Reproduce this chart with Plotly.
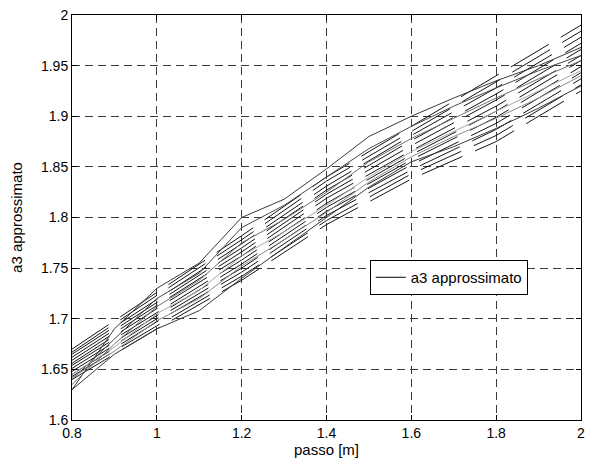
import plotly.graph_objects as go

# x positions (passo [m])
passo_solid = [0.8, 0.9, 1.0, 1.1, 1.2, 1.3, 1.4, 1.5, 1.6, 1.7, 1.8, 1.9, 2.0]
passo_dash = [0.8, 1.0, 1.2, 1.4, 1.6, 1.8, 2.0]

# solid curves
solid_1 = [1.630, 1.690, 1.730, 1.755, 1.800, 1.818, 1.848, 1.880, 1.900, 1.918, 1.935, 1.950, 1.968]
solid_2 = [1.640, 1.680, 1.720, 1.745, 1.790, 1.812, 1.840, 1.868, 1.890, 1.910, 1.928, 1.945, 1.960]
solid_3 = [1.645, 1.672, 1.705, 1.728, 1.762, 1.786, 1.812, 1.840, 1.865, 1.885, 1.905, 1.925, 1.945]
solid_4 = [1.630, 1.665, 1.690, 1.708, 1.740, 1.770, 1.800, 1.830, 1.855, 1.870, 1.888, 1.908, 1.930]
solid_5 = [1.635, 1.675, 1.712, 1.738, 1.775, 1.798, 1.825, 1.855, 1.878, 1.898, 1.918, 1.937, 1.955]
solid_6 = [1.642, 1.668, 1.698, 1.720, 1.752, 1.778, 1.805, 1.835, 1.860, 1.880, 1.898, 1.918, 1.940]
solid_colors = ["#3a3a3a", "#4a4a4a", "#a8a8a8", "#3a3a3a", "#707070", "#8a8a8a"]

# dashed curves
dash_1 = [1.640, 1.690, 1.738, 1.793, 1.838, 1.875, 1.925]
dash_2 = [1.643, 1.693, 1.742, 1.797, 1.843, 1.881, 1.931]
dash_3 = [1.645, 1.697, 1.746, 1.802, 1.847, 1.887, 1.937]
dash_4 = [1.648, 1.700, 1.750, 1.806, 1.852, 1.893, 1.943]
dash_5 = [1.651, 1.703, 1.754, 1.810, 1.857, 1.899, 1.949]
dash_6 = [1.654, 1.706, 1.758, 1.814, 1.862, 1.905, 1.955]
dash_7 = [1.656, 1.710, 1.762, 1.819, 1.866, 1.910, 1.960]
dash_8 = [1.659, 1.713, 1.766, 1.823, 1.871, 1.916, 1.966]
dash_9 = [1.662, 1.716, 1.770, 1.827, 1.876, 1.922, 1.972]
dash_10 = [1.665, 1.719, 1.774, 1.831, 1.881, 1.928, 1.978]
dash_11 = [1.667, 1.723, 1.778, 1.836, 1.885, 1.934, 1.984]
dash_12 = [1.670, 1.726, 1.782, 1.840, 1.890, 1.940, 1.990]

x_ticks = [0.8, 1.0, 1.2, 1.4, 1.6, 1.8, 2.0]
x_ticktext = ["0.8", "1", "1.2", "1.4", "1.6", "1.8", "2"]
y_ticks = [1.6, 1.65, 1.7, 1.75, 1.8, 1.85, 1.9, 1.95, 2.0]
y_ticktext = ["1.6", "1.65", "1.7", "1.75", "1.8", "1.85", "1.9", "1.95", "2"]

legend_name = "a3 approssimato"

fig = go.Figure()

for ys in [dash_1, dash_2, dash_3, dash_4, dash_5, dash_6, dash_7, dash_8,
           dash_9, dash_10, dash_11, dash_12]:
    fig.add_trace(go.Scatter(x=passo_dash, y=ys, mode="lines", showlegend=False,
                             line=dict(color="#141414", width=1, dash="44px,14px"),
                             hoverinfo="skip"))

for ys, c in zip([solid_1, solid_2, solid_3, solid_4, solid_5, solid_6], solid_colors):
    fig.add_trace(go.Scatter(x=passo_solid, y=ys, mode="lines", showlegend=False,
                             line=dict(color=c, width=1), hoverinfo="skip"))

fig.add_trace(go.Scatter(x=[None], y=[None], mode="lines", name=legend_name,
                         line=dict(color="black", width=1)))

family = "Liberation Sans, Arial, sans-serif"
tick_font = dict(family=family, size=14, color="black")
title_font = dict(family=family, size=15, color="black")

axis_common = dict(
    showline=True, linecolor="black", linewidth=1, mirror="allticks",
    ticks="inside", ticklen=5, tickcolor="black",
    showgrid=True, gridcolor="#3a3a3a", gridwidth=1, griddash="8px,5px",
    zeroline=False, tickfont=tick_font,
)

fig.update_layout(
    width=592, height=463,
    margin=dict(l=72, r=7, t=15, b=43),
    paper_bgcolor="white", plot_bgcolor="white",
    font=tick_font,
    xaxis=dict(range=[0.8, 2.0], tickvals=x_ticks, ticktext=x_ticktext,
               title=dict(text="passo [m]", font=title_font, standoff=3), **axis_common),
    yaxis=dict(range=[1.6, 2.0], tickvals=y_ticks, ticktext=y_ticktext,
               title=dict(text="a3 approssimato", font=title_font, standoff=14), **axis_common),
    legend=dict(x=0.585, y=0.395, xanchor="left", yanchor="top",
                bgcolor="white", bordercolor="black", borderwidth=1,
                font=title_font, itemwidth=30),
)

fig.write_html("out.html")
